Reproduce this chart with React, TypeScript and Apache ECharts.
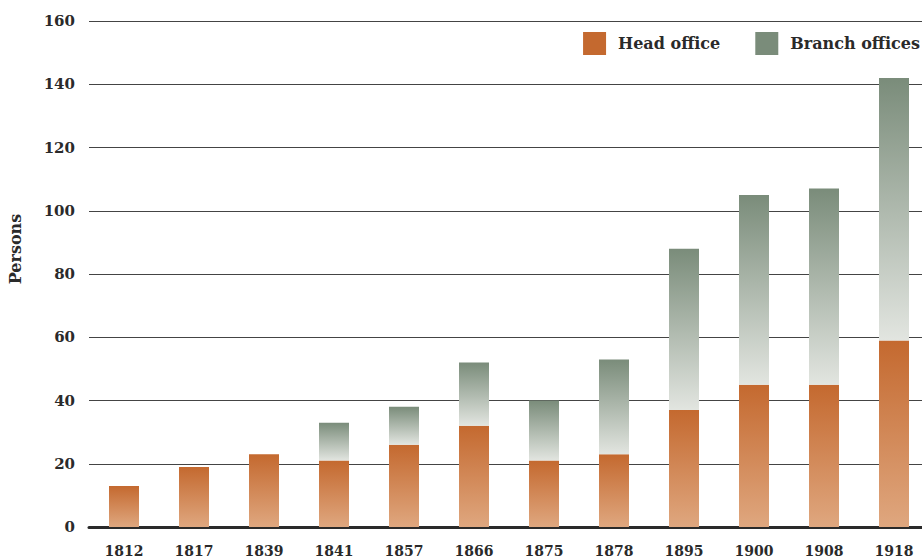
import React, { useEffect, useRef } from "react";
import * as echarts from "echarts";

const years = ["1812", "1817", "1839", "1841", "1857", "1866", "1875", "1878", "1895", "1900", "1908", "1918"];
const headOffice = [13, 19, 23, 21, 26, 32, 21, 23, 37, 45, 45, 59];
const branchOffices = [0, 0, 0, 12, 12, 20, 19, 30, 51, 60, 62, 83];
const yTicks = [0, 20, 40, 60, 80, 100, 120, 140, 160];
const yTitle = "Persons";

const FONT = "'DejaVu Serif', 'Liberation Serif', serif";

export default function App() {
  const ref = useRef<HTMLDivElement>(null);
  useEffect(() => {
    if (!ref.current) return;
    const chart = echarts.init(ref.current, null, { renderer: "svg" });
    chart.setOption({
      animation: false,
      backgroundColor: "#ffffff",
      grid: { left: 89, right: -7, top: 21, bottom: 33, containLabel: false, outerBoundsMode: "none" },
      legend: {
        orient: "horizontal",
        right: 2,
        top: 32,
        padding: 0,
        itemWidth: 23,
        itemHeight: 23,
        itemGap: 35,
        icon: "rect",
        textStyle: { fontFamily: FONT, fontSize: 16, fontWeight: "bold", color: "#2a2a2a", padding: [0, 0, 0, 7] },
        data: [
          { name: "Head office", itemStyle: { color: "#c4692f" } },
          { name: "Branch offices", itemStyle: { color: "#7a8c7a" } },
        ],
      },
      graphic: [
        {
          type: "text",
          x: 15,
          y: 249,
          rotation: Math.PI / 2,
          style: {
            text: yTitle,
            fontFamily: FONT,
            fontSize: 16,
            fontWeight: "bold",
            fill: "#2a2a2a",
            align: "center",
            verticalAlign: "middle",
          },
        },
      ],
      xAxis: {
        type: "category",
        data: years,
        axisLine: { show: true, lineStyle: { color: "#2a2a2a", width: 3 } },
        axisTick: { show: false },
        axisLabel: { fontFamily: FONT, fontSize: 14, fontWeight: "bold", color: "#2a2a2a", margin: 17 },
      },
      yAxis: {
        type: "value",
        min: yTicks[0],
        max: yTicks[yTicks.length - 1],
        interval: 20,
        axisLine: { show: false },
        axisTick: { show: false },
        axisLabel: { fontFamily: FONT, fontSize: 15, fontWeight: "bold", color: "#2a2a2a", margin: 14 },
        splitLine: { show: true, lineStyle: { color: "#444444", width: 1 } },
      },
      series: [
        {
          name: "Head office",
          type: "bar",
          stack: "total",
          barWidth: 30,
          data: headOffice,
          itemStyle: {
            color: new echarts.graphic.LinearGradient(0, 0, 0, 1, [
              { offset: 0, color: "#c4692f" },
              { offset: 1, color: "#dfa77f" },
            ]),
          },
        },
        {
          name: "Branch offices",
          type: "bar",
          stack: "total",
          barWidth: 30,
          data: branchOffices.map((v) => (v === 0 ? "-" : v)),
          itemStyle: {
            color: new echarts.graphic.LinearGradient(0, 0, 0, 1, [
              { offset: 0, color: "#7a8c7a" },
              { offset: 1, color: "#e2e5e0" },
            ]),
          },
        },
      ],
    });
    return () => chart.dispose();
  }, []);
  return <div ref={ref} style={{ width: 922, height: 560, position: "absolute", left: 0, top: 0 }} />;
}
